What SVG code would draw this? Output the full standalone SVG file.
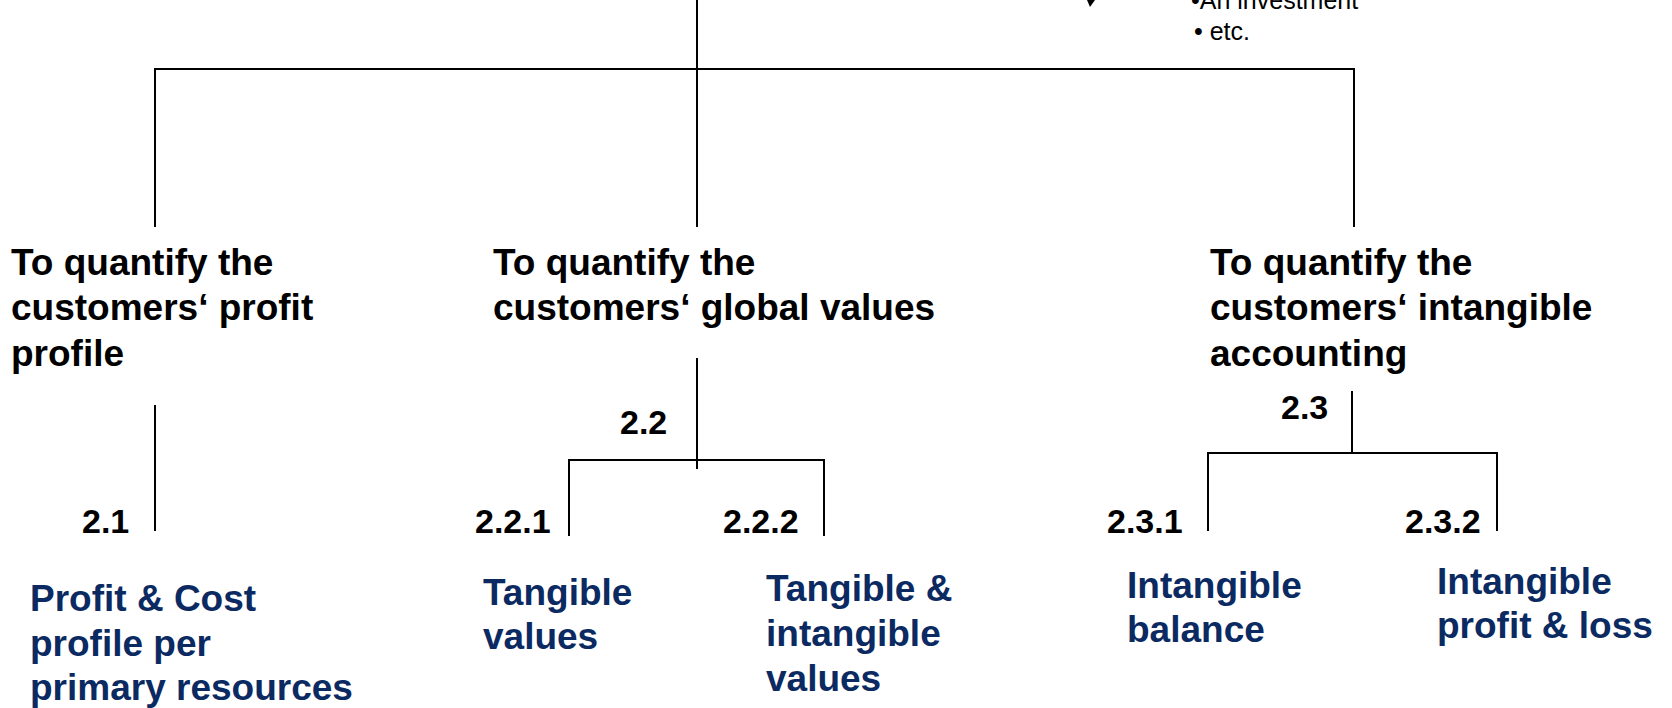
<svg xmlns="http://www.w3.org/2000/svg" width="1672" height="708" viewBox="0 0 1672 708">
<style>
.ln{stroke:#000;stroke-width:2;fill:none}
.h{font-family:"Liberation Sans",Arial,sans-serif;font-weight:bold;font-size:37px;fill:#000}
.num{font-family:"Liberation Sans",Arial,sans-serif;font-weight:bold;font-size:34px;fill:#000}
.b{font-family:"Liberation Sans",Arial,sans-serif;font-weight:bold;font-size:37px;fill:#0B2A62}
.n{font-family:"Liberation Sans",Arial,sans-serif;font-size:25px;fill:#000}
</style>
<rect width="1672" height="708" fill="#fff"/>
<g id="connectors">
<path class="ln" d="M697,0 V227"/>
<path class="ln" d="M155,227 V69 H1354 V227"/>
<path class="ln" d="M155,405 V531"/>
<path class="ln" d="M697,358 V469"/>
<path class="ln" d="M569,536 V460 H824 V536"/>
<path class="ln" d="M1352,391 V453"/>
<path class="ln" d="M1208,531 V453 H1497 V531"/>
<polygon points="1087,0 1095,0 1090,7" fill="#000"/>
</g>
<g id="note">
<text class="n" x="1191" y="9">•An investment</text>
<text class="n" x="1194" y="40">• etc.</text>
</g>
<g id="node-2-1-goal">
<text class="h" x="11" y="275">To quantify the</text>
<text class="h" x="11" y="320">customers‘ profit</text>
<text class="h" x="11" y="366">profile</text>
</g>
<g id="node-2-2-goal">
<text class="h" x="493" y="275">To quantify the</text>
<text class="h" x="493" y="320">customers‘ global values</text>
</g>
<g id="node-2-3-goal">
<text class="h" x="1210" y="275">To quantify the</text>
<text class="h" x="1210" y="320">customers‘ intangible</text>
<text class="h" x="1210" y="366">accounting</text>
</g>
<g id="labels">
<text class="num" x="82" y="533">2.1</text>
<text class="num" x="620" y="434">2.2</text>
<text class="num" x="475" y="533">2.2.1</text>
<text class="num" x="723" y="533">2.2.2</text>
<text class="num" x="1281" y="419">2.3</text>
<text class="num" x="1107" y="533">2.3.1</text>
<text class="num" x="1405" y="533">2.3.2</text>
</g>
<g id="node-2-1">
<text class="b" x="30" y="611">Profit &amp; Cost</text>
<text class="b" x="30" y="656">profile per</text>
<text class="b" x="30" y="700">primary resources</text>
</g>
<g id="node-2-2-1">
<text class="b" x="483" y="605">Tangible</text>
<text class="b" x="483" y="649">values</text>
</g>
<g id="node-2-2-2">
<text class="b" x="766" y="601">Tangible &amp;</text>
<text class="b" x="766" y="646">intangible</text>
<text class="b" x="766" y="691">values</text>
</g>
<g id="node-2-3-1">
<text class="b" x="1127" y="598">Intangible</text>
<text class="b" x="1127" y="642">balance</text>
</g>
<g id="node-2-3-2">
<text class="b" x="1437" y="594">Intangible</text>
<text class="b" x="1437" y="638">profit &amp; loss</text>
</g>
</svg>
